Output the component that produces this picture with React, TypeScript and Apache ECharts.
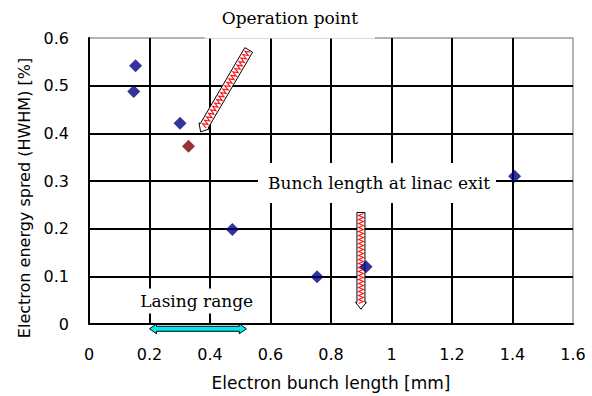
import React, { useEffect, useRef } from "react";
import * as echarts from "echarts";

// Measured points: electron bunch length [mm] vs energy spread (HWHM) [%]
const bunchLength = [0.154, 0.148, 0.301, 0.474, 0.754, 0.916, 1.407];
const energySpread = [0.542, 0.488, 0.421, 0.198, 0.099, 0.12, 0.31];
// Operating point
const opBunchLength = [0.329];
const opEnergySpread = [0.373];

const xTicks = { min: 0, max: 1.6, interval: 0.2 };
const yTicks = { min: 0, max: 0.6, interval: 0.1 };

// Annotation anchors in data units
const opArrow = { tail: [0.528, 0.575], tip: [0.369, 0.403] };
const exitArrow = { tail: [0.899, 0.234], tip: [0.899, 0.031] };
const lasingRange = [0.2, 0.52];
const lasingY = -0.01;
const opLabel = { text: "Operation point", at: [0.664, 0.641] };
const exitLabel = { text: "Bunch length at linac exit", at: [0.952, 0.296] };
const lasingLabel = { text: "Lasing range", at: [0.356, 0.048] };

type P = [number, number];

function arrowPolygon(tail: P, tip: P, w: number, hw: number, hl: number, doubleHead = false): P[] {
  const dx = tip[0] - tail[0];
  const dy = tip[1] - tail[1];
  const len = Math.hypot(dx, dy);
  const ux = dx / len, uy = dy / len;
  const nx = -uy, ny = ux;
  const at = (s: number, o: number): P => [tail[0] + ux * s + nx * o, tail[1] + uy * s + ny * o];
  const b = len - hl;
  if (!doubleHead) {
    return [at(0, -w), at(b, -w), at(b, -hw), at(len, 0), at(b, hw), at(b, w), at(0, w)];
  }
  return [
    at(0, 0), at(hl, -hw), at(hl, -w), at(b, -w), at(b, -hw), at(len, 0),
    at(b, hw), at(b, w), at(hl, w), at(hl, hw),
  ];
}

function zigzag(tail: P, tip: P, amp: number, step: number, stopBefore: number): P[] {
  const dx = tip[0] - tail[0];
  const dy = tip[1] - tail[1];
  const len = Math.hypot(dx, dy);
  const ux = dx / len, uy = dy / len;
  const nx = -uy, ny = ux;
  const pts: P[] = [];
  let k = 0;
  for (let s = 1; s < len - stopBefore; s += step) {
    const o = k % 2 === 0 ? -amp : amp;
    pts.push([tail[0] + ux * s + nx * o, tail[1] + uy * s + ny * o]);
    k++;
  }
  return pts;
}

export default function App() {
  const ref = useRef<HTMLDivElement>(null);

  useEffect(() => {
    if (!ref.current) return;
    document.body.style.margin = "0";
    const chart = echarts.init(ref.current, undefined, { renderer: "svg" });
    const sans = "DejaVu Sans";
    const serif = "DejaVu Serif";

    chart.setOption({
      animation: false,
      backgroundColor: "#fff",
      grid: {
        left: 89,
        top: 38,
        right: 19,
        bottom: 68,
        show: true,
        borderColor: "#9a9a9a",
        borderWidth: 1.5,
        backgroundColor: "transparent",
      },
      xAxis: {
        type: "value",
        ...xTicks,
        name: "Electron bunch length [mm]",
        nameLocation: "middle",
        nameGap: 50,
        nameTextStyle: { fontFamily: sans, fontSize: 17, color: "#000" },
        axisLine: { show: true, lineStyle: { color: "#000", width: 2 } },
        axisTick: { show: false },
        axisLabel: { fontFamily: sans, fontSize: 16, color: "#000", margin: 22 },
        splitLine: { show: true, showMaxLine: false, lineStyle: { color: "#000", width: 2 } },
      },
      yAxis: {
        type: "value",
        ...yTicks,
        name: "Electron energy spred (HWHM) [%]",
        nameLocation: "middle",
        nameGap: 54,
        nameTextStyle: { fontFamily: sans, fontSize: 16, color: "#000", padding: [0, 34, 0, 0] },
        axisLine: { show: true, lineStyle: { color: "#000", width: 2 } },
        axisTick: { show: false },
        axisLabel: { fontFamily: sans, fontSize: 16, color: "#000", margin: 20 },
        splitLine: { show: true, showMaxLine: false, lineStyle: { color: "#000", width: 2 } },
      },
      series: [
        {
          type: "scatter",
          symbol: "diamond",
          symbolSize: 13,
          z: 5,
          itemStyle: { color: "#000080" },
          data: bunchLength.map((x, i) => [x, energySpread[i]]),
        },
        {
          type: "scatter",
          symbol: "diamond",
          symbolSize: 13,
          z: 5,
          itemStyle: { color: "#800000" },
          data: opBunchLength.map((x, i) => [x, opEnergySpread[i]]),
        },
      ],
    });

    const px = (p: number[]): P => chart.convertToPixel({ gridIndex: 0 }, p) as P;

    const opTail = px(opArrow.tail), opTip = px(opArrow.tip);
    const exTail = px(exitArrow.tail), exTip = px(exitArrow.tip);
    const lsA = px([lasingRange[0], lasingY]), lsB = px([lasingRange[1], lasingY]);

    const label = (t: { text: string; at: number[] }, padding: number[]) => {
      const c = px(t.at);
      return {
        type: "text",
        x: c[0],
        y: c[1],
        z: 3,
        style: {
          text: t.text,
          font: `17px "${serif}"`,
          fill: "#000",
          align: "center",
          verticalAlign: "middle",
          backgroundColor: "#fff",
          padding,
        },
      };
    };

    chart.setOption({
      graphic: [
        label(opLabel, [10, 17, 13, 17]),
        label(exitLabel, [10, 6, 13, 10]),
        label(lasingLabel, [5, 2, 3, 2]),
        {
          type: "polygon",
          z: 4,
          shape: { points: arrowPolygon(opTail, opTip, 4.5, 6, 7) },
          style: { fill: "#fff", stroke: "#000", lineWidth: 1 },
        },
        {
          type: "polyline",
          z: 4,
          shape: { points: zigzag(opTail, opTip, 2.5, 2, 6) },
          style: { stroke: "#ff1a1a", lineWidth: 1.2, fill: "none" },
        },
        {
          type: "polygon",
          z: 4,
          shape: { points: arrowPolygon(exTail, exTip, 4, 5.5, 7) },
          style: { fill: "#fff", stroke: "#000", lineWidth: 1 },
        },
        {
          type: "polyline",
          z: 4,
          shape: { points: zigzag(exTail, exTip, 2.5, 2, 5) },
          style: { stroke: "#ff1a1a", lineWidth: 1.2, fill: "none" },
        },
        {
          type: "polygon",
          z: 4,
          shape: { points: arrowPolygon(lsA, lsB, 2.5, 5, 7, true) },
          style: { fill: "#00e8f0", stroke: "#000", lineWidth: 1 },
        },
      ],
    });

    return () => chart.dispose();
  }, []);

  return <div ref={ref} style={{ width: 592, height: 396 }} />;
}
